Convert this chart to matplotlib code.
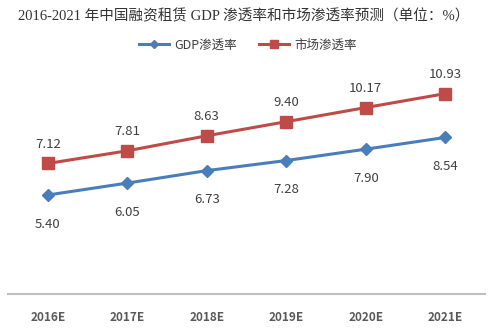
import matplotlib.pyplot as plt

plt.rcParams['font.family'] = ['Noto Sans CJK SC', 'DejaVu Sans']

years = ['2016E', '2017E', '2018E', '2019E', '2020E', '2021E']
gdp_rate = [5.40, 6.05, 6.73, 7.28, 7.90, 8.54]
market_rate = [7.12, 7.81, 8.63, 9.40, 10.17, 10.93]

BLUE = '#4A7EBB'
RED = '#BE4B48'

fig = plt.figure(figsize=(4.88, 3.31), dpi=100)
ax = fig.add_axes([0.0164, 0.1118, 0.9775, 0.6646])

x = range(len(years))
ax.plot(x, gdp_rate, color=BLUE, lw=2.2, marker='D', ms=6.5, label='GDP渗透率')
ax.plot(x, market_rate, color=RED, lw=2.2, marker='s', ms=8, label='市场渗透率')

for i, v in enumerate(gdp_rate):
    ax.annotate(f'{v:.2f}', (i, v), xytext=(0, -21), textcoords='offset points',
                ha='center', va='center', fontsize=9.5, color='#404040')
for i, v in enumerate(market_rate):
    ax.annotate(f'{v:.2f}', (i, v), xytext=(0, 14), textcoords='offset points',
                ha='center', va='center', fontsize=9.5, color='#404040')

ax.set_xlim(-0.5, len(years) - 0.5)
ax.set_ylim(0, 12)
ax.set_xticks(list(x))
ax.set_xticklabels(years, fontsize=8.5, color='#595959', fontweight='bold')
ax.tick_params(axis='x', length=0, pad=12)
ax.set_yticks([])
for s in ['top', 'right', 'left']:
    ax.spines[s].set_visible(False)
ax.spines['bottom'].set_color('#BFBFBF')
ax.spines['bottom'].set_linewidth(1.5)

fig.text(0.5, 0.952, '2016-2021 年中国融资租赁 GDP 渗透率和市场渗透率预测（单位：%）',
         ha='center', va='center', fontsize=10.5, color='#333333',
         family=['Liberation Serif', 'Noto Sans CJK SC'])

fig.legend(loc='center', bbox_to_anchor=(0.508, 0.864), ncol=2, frameon=False,
           fontsize=9, handlelength=2.4, handletextpad=0.4, columnspacing=1.8,
           markerscale=0.7, labelcolor='#404040')

fig.savefig('out.png', dpi=100)
